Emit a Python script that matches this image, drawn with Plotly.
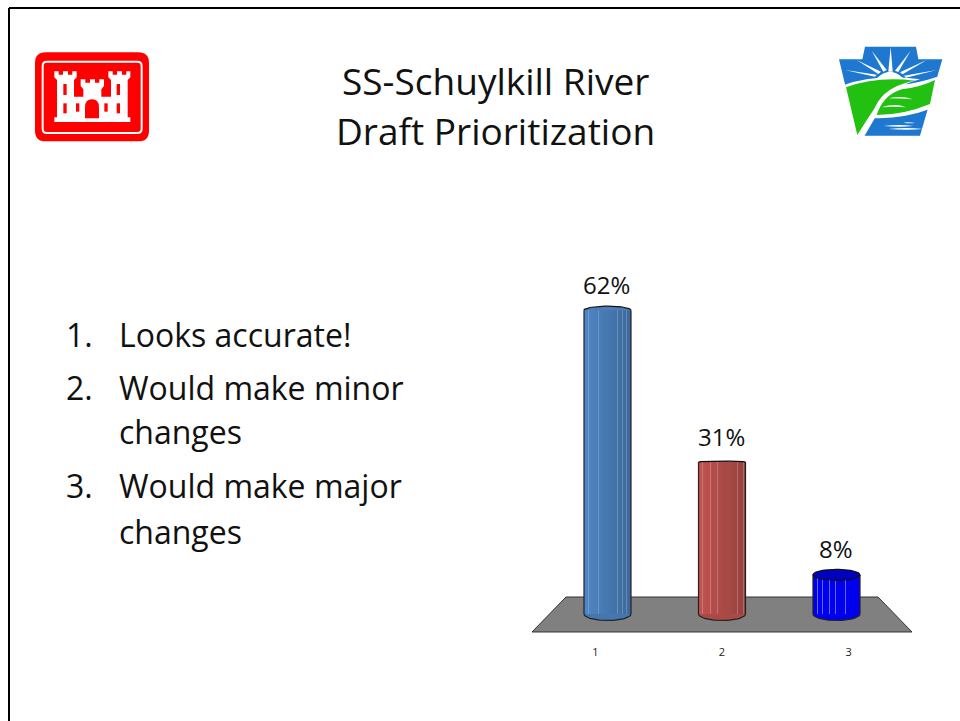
import re
import numpy as np
import plotly.graph_objects as go

# ---- data ----
categories = [1, 2, 3]
percents = [62, 31, 8]
labels = ["62%", "31%", "8%"]
title_lines = ["SS-Schuylkill River", "Draft Prioritization"]
legend_lines = [("1.", "Looks accurate!", 334), ("2.", "Would make minor", 387), ("", "changes", 431),
                ("3.", "Would make major", 485), ("", "changes", 531)]

# ---- styling ----
W, H = 960, 721
FONT = "Open Sans"
body_left = ["#4f85c4", "#c05250", "#0000f0"]
body_right = ["#3d6a9b", "#97433f", "#0000ee"]
cap_fill = ["#4b7db7", "#a84a47", "#0000c0"]
stripes = [[.08, .30, .70, .80, .90], [.07, .25, .39, .81, .95], [.08, .19, .33, .47, .69]]
stripe_col = ["rgba(200,220,245,.28)", "rgba(255,210,210,.28)", "rgba(190,190,255,.55)"]
cap_rise_px = [4, 1, 5.5]
bottom_rise_px = 6.5
px_per_val = 4.9
y0_px = 614
x_per_cat_px = 114.5
bar_px = 47
n_slices = 14


def mix(a, b, t):
    ca = [int(a[i:i + 2], 16) for i in (1, 3, 5)]
    cb = [int(b[i:i + 2], 16) for i in (1, 3, 5)]
    return "rgb(%d,%d,%d)" % tuple(round(p + (q - p) * t) for p, q in zip(ca, cb))


def zp(path, ox, oy, s=1 / 3):
    """Convert a path written in crop coordinates to page pixels."""
    toks = re.findall(r"[A-Za-z]|-?[\d.]+", path)
    out, isx = [], True
    for t in toks:
        if t.isalpha():
            out.append(t)
            isx = True
        else:
            v = float(t)
            out.append(f"{(ox + v * s) if isx else (oy + v * s):.2f}")
            isx = not isx
    return " ".join(out)


fig = go.Figure()
bw = bar_px / x_per_cat_px
theta = np.linspace(0, 2 * np.pi, 61)
lower = np.linspace(np.pi, 2 * np.pi, 31)

# bodies
for i, (c, v) in enumerate(zip(categories, percents)):
    offs = [-bw / 2 + bw * k / n_slices for k in range(n_slices)]
    cols = [mix(body_left[i], body_right[i], k / (n_slices - 1)) for k in range(n_slices)]
    # rounded bottom of the cylinder (lower half only)
    fig.add_trace(go.Scatter(
        x=c + bw / 2 * np.cos(lower), y=bottom_rise_px / px_per_val * np.sin(lower),
        xaxis="x2", yaxis="y", mode="lines", fill="toself", fillcolor=cols[n_slices // 2],
        line=dict(color="#222222", width=1.2), hoverinfo="skip", showlegend=False))
    fig.add_trace(go.Bar(
        x=[c] * n_slices, y=[v] * n_slices, offset=offs, width=[bw / n_slices * 1.04] * n_slices,
        marker=dict(color=cols, line=dict(width=0)), xaxis="x2", yaxis="y",
        hoverinfo="skip", showlegend=False))
    fig.add_trace(go.Bar(
        x=[c] * len(stripes[i]), y=[v] * len(stripes[i]),
        offset=[-bw / 2 + bw * s for s in stripes[i]], width=[1 / x_per_cat_px] * len(stripes[i]),
        marker=dict(color=stripe_col[i], line=dict(width=0)), xaxis="x2", yaxis="y",
        hoverinfo="skip", showlegend=False))
    # side outlines
    for side in (-1, 1):
        fig.add_trace(go.Scatter(
            x=[c + side * bw / 2] * 2, y=[0, v], xaxis="x2", yaxis="y", mode="lines",
            line=dict(color="#222222", width=1.2), hoverinfo="skip", showlegend=False))
    # cap
    rise = cap_rise_px[i] / px_per_val
    if i == 2:
        capx, capy = c + bw / 2 * np.cos(theta), v + rise * np.sin(theta)
    else:
        t2 = np.linspace(0, np.pi, 31)
        capx, capy = c + bw / 2 * np.cos(t2), v + rise * np.sin(t2)
    fig.add_trace(go.Scatter(
        x=capx, y=capy, xaxis="x2", yaxis="y", mode="lines", fill="toself",
        fillcolor=cap_fill[i], line=dict(color="#111111", width=1.2),
        hoverinfo="skip", showlegend=False))

# invisible trace holds the tick axis of the floor
fig.add_trace(go.Scatter(x=categories, y=[0, 0, 0], xaxis="x", yaxis="y", mode="markers",
                         marker=dict(opacity=0), hoverinfo="skip", showlegend=False))

ann = []
for c, v, t in zip(categories, percents, labels):
    ann.append(dict(x=c, y=v, xref="x2", yref="y", text=t, showarrow=False, yanchor="middle", yshift=26,
                    xshift=-1, font=dict(family=FONT, size=24, color="#111111")))
for line, ypx in zip(title_lines, (80, 130)):
    ann.append(dict(x=495, y=ypx, xref="x3", yref="y3", text=line, showarrow=False, yanchor="middle",
                    font=dict(family=FONT, size=37, color="#111111")))
for num, txt, ypx in legend_lines:
    if num:
        ann.append(dict(x=64, y=ypx, xref="x3", yref="y3", text=num, showarrow=False, xanchor="left",
                        yanchor="middle", font=dict(family=FONT, size=32, color="#111111")))
    ann.append(dict(x=117, y=ypx, xref="x3", yref="y3", text=txt, showarrow=False, xanchor="left",
                    yanchor="middle", font=dict(family=FONT, size=32, color="#111111")))


def shp(path, fill, line=None, lw=0, layer="above"):
    return dict(type="path", path=path, xref="x3", yref="y3", fillcolor=fill, layer=layer,
                line=dict(color=line or "rgba(0,0,0,0)", width=lw))


shapes = []
# slide frame
shapes.append(dict(type="line", xref="x3", yref="y3", x0=9, y0=8, x1=960, y1=8, line=dict(color="#000", width=2)))
shapes.append(dict(type="line", xref="x3", yref="y3", x0=9, y0=8, x1=9, y1=721, line=dict(color="#000", width=2)))
# floor, in fractions of the page so it stays below the cylinders
fx = lambda p: f"{p / W:.5f}"
fy = lambda p: f"{1 - p / H:.5f}"
shapes.append(dict(type="path", xref="paper", yref="paper", layer="below", fillcolor="#808080",
                   line=dict(color="#333333", width=1),
                   path=f"M {fx(532)} {fy(632)} L {fx(566)} {fy(597)} L {fx(878)} {fy(597)} L {fx(912)} {fy(632)} Z"))

# castle logo (crop coordinates 3x, origin 0,0)
C = lambda p: zp(p, 0, 0)
shapes.append(shp(C("M 137 157 L 415 157 Q 447 157 447 189 L 447 392 Q 447 424 415 424 L 137 424 Q 105 424 105 392 L 105 189 Q 105 157 137 157 Z"), "#ff0000"))
shapes.append(shp(C("M 140 185 L 412 185 Q 425 185 425 198 L 425 386 Q 425 399 412 399 L 140 399 Q 128 399 128 386 L 128 198 Q 128 185 140 185 Z"), "rgba(0,0,0,0)", "#ffffff", 2))
shapes.append(shp(C("M 163 366 L 163 352 L 171 352 L 171 240 L 163 232 L 163 214 L 176 214 L 176 224 L 189 224 L 189 214 L 204 214 L 204 224 L 217 224 L 217 214 L 230 214 L 230 232 L 222 240 L 222 290 L 250 290 L 250 268 L 242 258 L 242 238 L 256 238 L 256 248 L 270 248 L 270 238 L 285 238 L 285 248 L 298 248 L 298 238 L 312 238 L 312 258 L 304 268 L 304 290 L 333 290 L 333 240 L 325 232 L 325 214 L 338 214 L 338 224 L 351 224 L 351 214 L 366 214 L 366 224 L 379 224 L 379 214 L 391 214 L 391 232 L 383 240 L 383 352 L 391 352 L 391 366 Z"), "#ffffff"))
shapes.append(shp(C("M 255 355 L 255 322 Q 255 298 276 298 Q 297 298 297 322 L 297 355 Z"), "#ff0000"))
for x0, y0, y1 in [(190, 252, 285), (350, 252, 285), (190, 310, 340), (228, 310, 335), (313, 310, 335), (350, 310, 340)]:
    shapes.append(shp(C(f"M {x0} {y0} L {x0 + 10} {y0} L {x0 + 10} {y1} L {x0} {y1} Z"), "#ff0000"))

# keystone logo (crop coordinates 3x, origin 820,30)
K = lambda p: zp(p, 820, 30)
shapes.append(shp(K("M 135 50 L 288 50 L 295 88 L 367 88 L 300 317 L 112 317 L 57 88 L 127 88 Z"), "#1f78d0"))
# sun and rays
for tip, a, b in [((212, 50), (205, 125), (218, 125)), ((155, 62), (190, 125), (200, 120)),
                  ((272, 62), (225, 122), (235, 126)), ((110, 90), (175, 132), (183, 125)),
                  ((320, 90), (240, 127), (248, 133)), ((75, 120), (165, 140), (170, 134)),
                  ((350, 120), (252, 137), (258, 143))]:
    shapes.append(shp(K(f"M {tip[0]} {tip[1]} L {a[0]} {a[1]} L {b[0]} {b[1]} Z"), "#ffffff"))
shapes.append(shp(K("M 170 145 Q 210 105 250 145 Z"), "#ffffff"))
# hill, with white rim
shapes.append(shp(K("M 72 165 Q 170 130 300 148 Q 225 165 190 225 Q 160 270 132 320 L 110 320 Z"), "#ffffff"))
shapes.append(shp(K("M 78 172 Q 170 138 285 152 Q 205 165 170 225 Q 140 270 112 315 Z"), "#22c010"))
# leaf, with white rim
shapes.append(shp(K("M 155 264 Q 170 190 240 165 Q 300 158 352 140 L 336 235 Q 250 268 155 264 Z"), "#ffffff"))
shapes.append(shp(K("M 345 150 L 330 222 Q 250 255 170 255 Q 190 195 245 178 Q 300 172 345 150 Z"), "#22c010"))
shapes.append(shp(K("M 205 205 Q 245 195 278 208 Q 245 205 205 205 Z"), "#ffffff"))
shapes.append(shp(K("M 185 232 Q 225 218 258 232 Q 225 228 185 232 Z"), "#ffffff"))
# water ripples
for p in ["M 190 288 Q 240 282 280 288 Q 240 292 190 288 Z", "M 205 297 Q 260 291 310 297 Q 260 302 205 297 Z",
          "M 250 278 Q 265 275 285 279 Q 265 281 250 278 Z"]:
    shapes.append(shp(K(p), "#ffffff"))

fig.update_layout(
    width=W, height=H, margin=dict(l=0, r=0, t=0, b=0), autosize=False,
    paper_bgcolor="#ffffff", plot_bgcolor="rgba(0,0,0,0)", barmode="overlay", showlegend=False,
    bargap=0, annotations=ann, shapes=shapes,
    xaxis=dict(domain=[532 / W, 912 / W], range=[0.5, 3.5], tickvals=categories, ticktext=[str(c) for c in categories],
               anchor="free", position=1 - 632 / H, side="bottom", ticks="outside", ticklen=10,
               tickcolor="rgba(0,0,0,0)", tickfont=dict(family=FONT, size=11, color="#222222"),
               showgrid=False, zeroline=False, showline=False, fixedrange=True),
    xaxis2=dict(domain=[532 / W, 912 / W], range=[2 - 190 / x_per_cat_px, 2 + 190 / x_per_cat_px],
                overlaying="x", visible=False, fixedrange=True),
    yaxis=dict(domain=[0, 1], range=[(y0_px - H) / px_per_val, y0_px / px_per_val], visible=False, fixedrange=True),
    xaxis3=dict(domain=[0, 1], range=[0, W], visible=False, fixedrange=True, anchor="y3"),
    yaxis3=dict(domain=[0, 1], range=[H, 0], visible=False, fixedrange=True, anchor="x3"),
)
fig.add_trace(go.Scatter(x=[0], y=[0], xaxis="x3", yaxis="y3", mode="markers", marker=dict(opacity=0),
                         hoverinfo="skip", showlegend=False))
fig.write_html("out.html", config=dict(displayModeBar=False),
               post_script="document.body.style.margin='0';document.documentElement.style.overflow='hidden';")
